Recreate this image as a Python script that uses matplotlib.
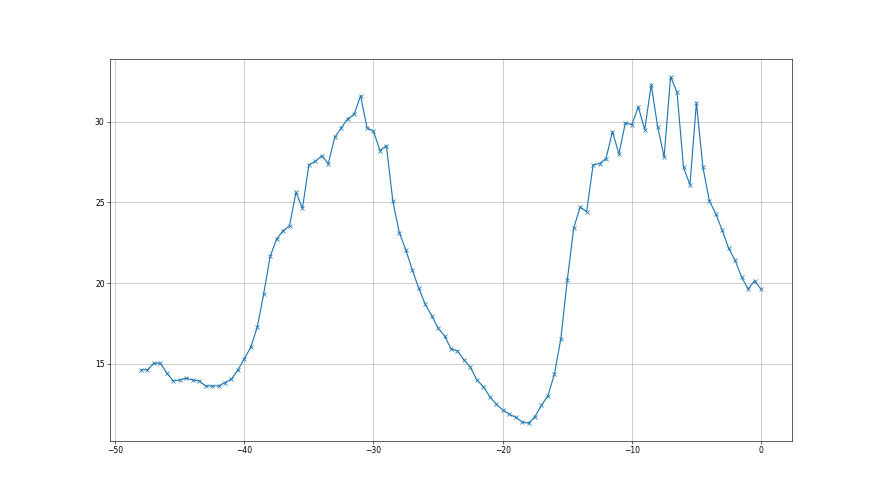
import numpy as np
import matplotlib
matplotlib.use("Agg")
import matplotlib.pyplot as plt

# x positions, every half step from -48 to 0
x_start = -48.0
x_step = 0.5

values = [
    14.63, 14.63, 15.04, 15.04, 14.42, 13.94, 14.00, 14.11, 14.00, 13.94,
    13.63, 13.63, 13.63, 13.84, 14.05, 14.62, 15.32, 16.03, 17.27, 19.34,
    21.65, 22.73, 23.24, 23.55, 25.62, 24.63, 27.33, 27.54, 27.89, 27.40,
    29.03, 29.61, 30.17, 30.45, 31.61, 29.61, 29.40, 28.20, 28.51, 25.06,
    23.12, 22.06, 20.82, 19.69, 18.70, 17.99, 17.21, 16.73, 15.93, 15.80,
    15.25, 14.79, 14.00, 13.59, 12.97, 12.50, 12.15, 11.88, 11.69, 11.40,
    11.32, 11.73, 12.42, 13.02, 14.34, 16.53, 20.16, 23.41, 24.71, 24.42,
    27.32, 27.40, 27.71, 29.38, 28.00, 29.92, 29.81, 30.91, 29.50, 32.29,
    29.67, 27.81, 32.78, 31.82, 27.17, 26.09, 31.16, 27.19, 25.10, 24.28,
    23.26, 22.15, 21.40, 20.37, 19.63, 20.14, 19.63,
]

x = x_start + x_step * np.arange(len(values))

fig, ax = plt.subplots(figsize=(16, 9), dpi=55)
ax.plot(x, values, marker='x')
ax.grid(True)

fig.savefig("out.png", dpi=55)
